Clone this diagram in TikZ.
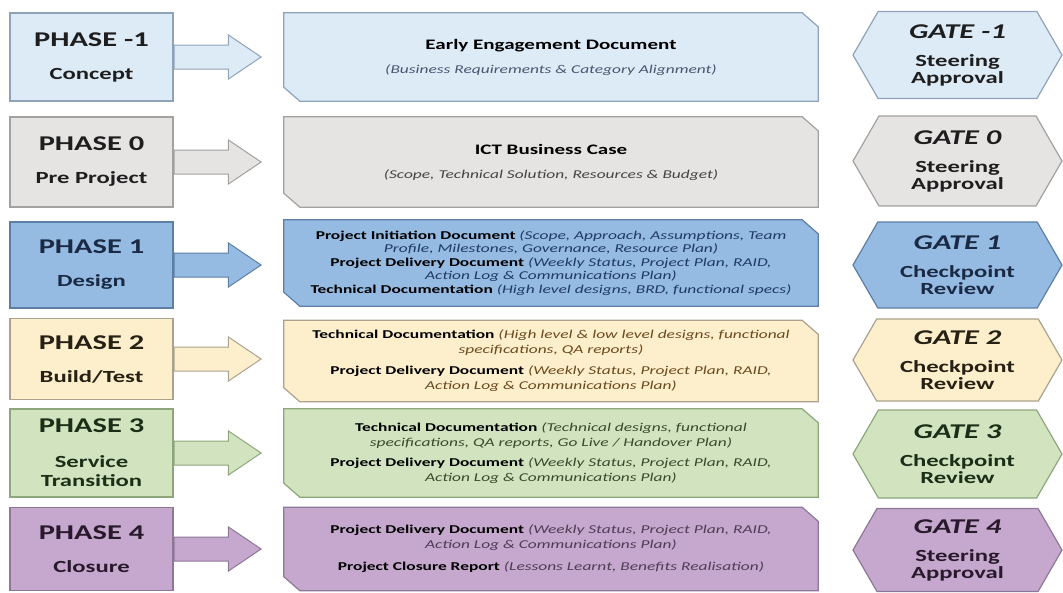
\documentclass[tikz,border=0pt]{standalone}
\usepackage{fontspec}
\setmainfont{Carlito}[FakeStretch=1.45]
\usetikzlibrary{shapes.arrows,shapes.symbols,backgrounds}

% row colours: fill, outline, text, italic notes
\definecolor{skyfill}{HTML}{DDEBF7}  \definecolor{skyline}{HTML}{8FA3B8}
\definecolor{skytext}{HTML}{1E1E1E}  \definecolor{skynote}{HTML}{4A5670}
\definecolor{greyfill}{HTML}{E6E3E3} \definecolor{greyline}{HTML}{A3A0A0}
\definecolor{greytext}{HTML}{1E1E1E} \definecolor{greynote}{HTML}{454545}
\definecolor{bluefill}{HTML}{95BBE3} \definecolor{blueline}{HTML}{5D7FA6}
\definecolor{bluetext}{HTML}{1B2A44} \definecolor{bluenote}{HTML}{1F3A66}
\definecolor{sandfill}{HTML}{FDEFCB} \definecolor{sandline}{HTML}{AAA28E}
\definecolor{sandtext}{HTML}{262015} \definecolor{sandnote}{HTML}{6B4A1F}
\definecolor{sagefill}{HTML}{D1E4BF} \definecolor{sageline}{HTML}{8DA67C}
\definecolor{sagetext}{HTML}{1B2E17} \definecolor{sagenote}{HTML}{3A4A2E}
\definecolor{plumfill}{HTML}{C6A7CD} \definecolor{plumline}{HTML}{8E7898}
\definecolor{plumtext}{HTML}{28192C} \definecolor{plumnote}{HTML}{4F3D55}

\newcommand{\ptitle}[1]{{\fontsize{21}{24}\selectfont #1}}
\newcommand{\gtitle}[1]{{\fontsize{21}{24}\selectfont\itshape #1}}
\newcommand{\dtitle}[1]{{\fontsize{14.5}{17}\selectfont\bfseries #1}}
\newcommand{\aside}[2]{{\itshape\color{#1}#2}}

\begin{document}
\begin{tikzpicture}[x=1pt,y=-1pt,
    phase/.style={rectangle,draw,line width=1.2pt,minimum width=163pt,inner sep=0pt,
      fill=#1fill,draw=#1line,text=#1text,align=center,font=\bfseries\fontsize{17}{19}\selectfont},
    doc/.style={rectangle,minimum width=534pt,inner sep=0pt,align=center,
      font=\fontsize{12}{15}\selectfont},
    gate/.style={signal,signal to=west and east,signal pointer angle=120,draw,
      line width=1.2pt,minimum width=209pt,inner sep=0pt,fill=#1fill,draw=#1line,
      text=#1text,align=center,font=\bfseries\fontsize{17}{17}\selectfont},
    flow/.style={single arrow,draw,line width=1pt,minimum height=87pt,inner xsep=0pt,
      inner ysep=11.5pt,fill=#1fill,draw=#1line,single arrow head extend=10pt,
      single arrow tip angle=68,anchor=tail}]

\useasboundingbox (0,0) rectangle (1063,592);

% Phase -1
\node[phase=sky,minimum height=88pt] (p1) at (91.5,57) {\ptitle{PHASE -1}\\[14pt]Concept};
\node[flow=sky] (a1) at (p1.east) {};
\node[doc,minimum height=88pt] (d1) at (551,57)
  {\dtitle{Early Engagement Document}\\[9pt]
   {\fontsize{12}{15}\selectfont\aside{skynote}{(Business Requirements \& Category Alignment)}}};
\node[gate=sky,minimum height=87pt] (g1) at (957.5,55) {\gtitle{GATE -1}\\[11pt]Steering\\Approval};

% Phase 0
\node[phase=grey,minimum height=90pt] (p2) at (91.5,162) {\ptitle{PHASE 0}\\[14pt]Pre Project};
\node[flow=grey] (a2) at (p2.east) {};
\node[doc,minimum height=90pt] (d2) at (551,162)
  {\dtitle{ICT Business Case}\\[9pt]
   {\fontsize{12}{15}\selectfont\aside{greynote}{(Scope, Technical Solution, Resources \& Budget)}}};
\node[gate=grey,minimum height=90pt] (g2) at (957.5,161) {\gtitle{GATE 0}\\[11pt]Steering\\Approval};

% Phase 1
\node[phase=blue,minimum height=86pt] (p3) at (91.5,265) {\ptitle{PHASE 1}\\[14pt]Design};
\node[flow=blue] (a3) at (p3.east) {};
\node[doc,minimum height=86pt,font=\fontsize{12}{13}\selectfont] (d3) at (551,263)
  {\textbf{Project Initiation Document} \aside{bluenote}{(Scope, Approach, Assumptions, Team}\\
   \aside{bluenote}{Profile, Milestones, Governance, Resource Plan)}\\[1pt]
   \textbf{Project Delivery Document} \aside{bluenote}{(Weekly Status, Project Plan, RAID,}\\
   \aside{bluenote}{Action Log \& Communications Plan)}\\[1pt]
   \textbf{Technical Documentation} \aside{bluenote}{(High level designs, BRD, functional specs)}};
\node[gate=blue,minimum height=86pt] (g3) at (957.5,265) {\gtitle{GATE 1}\\[11pt]Checkpoint\\Review};

% Phase 2
\node[phase=sand,minimum height=81pt] (p4) at (91.5,359) {\ptitle{PHASE 2}\\[14pt]Build/Test};
\node[flow=sand] (a4) at (p4.east) {};
\node[doc,minimum height=81pt] (d4) at (551,361)
  {\textbf{Technical Documentation} \aside{sandnote}{(High level \& low level designs, functional}\\
   \aside{sandnote}{specifications, QA reports)}\\[6pt]
   \textbf{Project Delivery Document} \aside{sandnote}{(Weekly Status, Project Plan, RAID,}\\
   \aside{sandnote}{Action Log \& Communications Plan)}};
\node[gate=sand,minimum height=82pt] (g4) at (957.5,360) {\gtitle{GATE 2}\\[11pt]Checkpoint\\Review};

% Phase 3
\node[phase=sage,minimum height=88pt] (p5) at (91.5,453) {\ptitle{PHASE 3}\\[16pt]Service\\Transition};
\node[flow=sage] (a5) at (p5.east) {};
\node[doc,minimum height=88pt] (d5) at (551,453)
  {\textbf{Technical Documentation} \aside{sagenote}{(Technical designs, functional}\\
   \aside{sagenote}{specifications, QA reports, Go Live / Handover Plan)}\\[5pt]
   \textbf{Project Delivery Document} \aside{sagenote}{(Weekly Status, Project Plan, RAID,}\\
   \aside{sagenote}{Action Log \& Communications Plan)}};
\node[gate=sage,minimum height=88pt] (g5) at (957.5,454) {\gtitle{GATE 3}\\[11pt]Checkpoint\\Review};

% Phase 4
\node[phase=plum,minimum height=83pt] (p6) at (91.5,549) {\ptitle{PHASE 4}\\[14pt]Closure};
\node[flow=plum] (a6) at (p6.east) {};
\node[doc,minimum height=83pt] (d6) at (551,549)
  {\textbf{Project Delivery Document} \aside{plumnote}{(Weekly Status, Project Plan, RAID,}\\
   \aside{plumnote}{Action Log \& Communications Plan)}\\[7pt]
   \textbf{Project Closure Report} \aside{plumnote}{(Lessons Learnt, Benefits Realisation)}};
\node[gate=plum,minimum height=83pt] (g6) at (957.5,550) {\gtitle{GATE 4}\\[11pt]Steering\\Approval};

% document boxes, corners cut top right and bottom left
\begin{scope}[on background layer]
\foreach \n/\c in {d1/sky,d2/grey,d3/blue,d4/sand,d5/sage,d6/plum}
  \filldraw[fill=\c fill,draw=\c line,line width=1.2pt]
    (\n.north west) -- ([xshift=-16pt]\n.north east) -- ([yshift=-14pt]\n.north east)
    -- (\n.south east) -- ([xshift=16pt]\n.south west) -- ([yshift=14pt]\n.south west) -- cycle;
\end{scope}

\end{tikzpicture}
\end{document}
